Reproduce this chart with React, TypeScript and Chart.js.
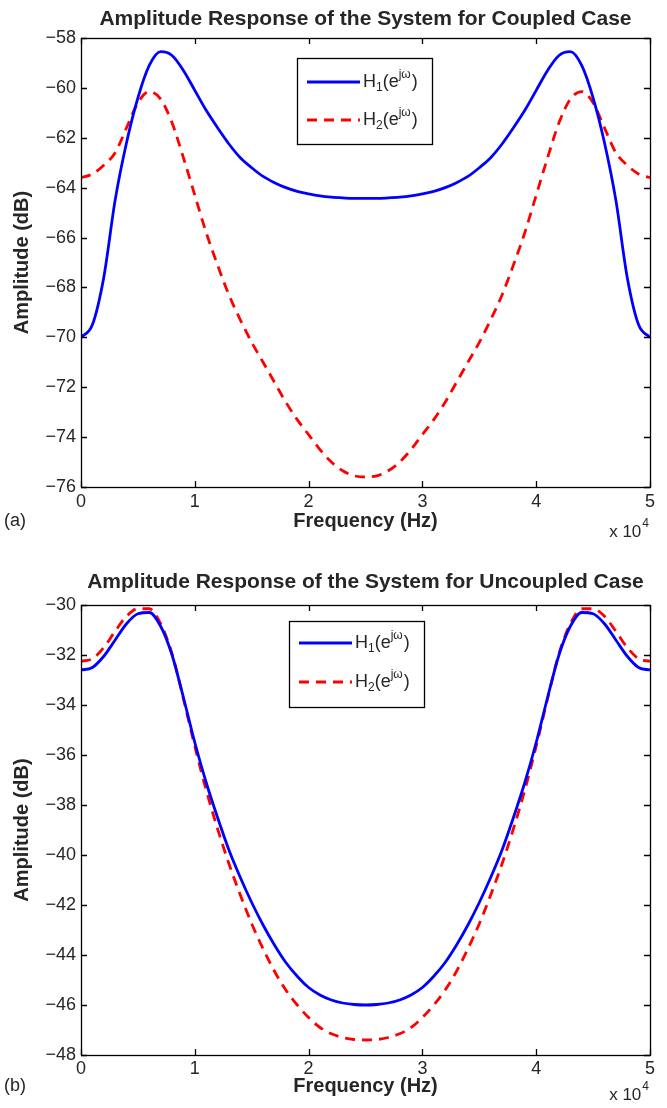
import React, { useEffect, useRef } from "react";
import { Chart, registerables } from "chart.js";

Chart.register(...registerables);

// ---------------- data ----------------
const FREQ_HZ = [
  0, 1000, 2000, 3000, 4000, 5000, 6000, 7000, 8000, 9000,
  10000, 11000, 12000, 13000, 14000, 15000, 16000, 17000, 18000, 19000,
  20000, 21000, 22000, 23000, 24000, 25000, 26000, 27000, 28000, 29000,
  30000, 31000, 32000, 33000, 34000, 35000, 36000, 37000, 38000, 39000,
  40000, 41000, 42000, 43000, 44000, 45000, 46000, 47000, 48000, 49000,
  50000,
];

const H1_COUPLED = [
  -70.0, -69.5, -67.6, -64.5, -62.2, -60.4, -59.1, -58.55, -58.7, -59.3,
  -60.1, -60.9, -61.6, -62.25, -62.8, -63.2, -63.55, -63.8, -64.0, -64.15,
  -64.25, -64.33, -64.38, -64.41, -64.43, -64.43, -64.43, -64.41, -64.38, -64.33,
  -64.25, -64.15, -64.0, -63.8, -63.55, -63.2, -62.8, -62.25, -61.6, -60.9,
  -60.1, -59.3, -58.7, -58.55, -59.1, -60.4, -62.2, -64.5, -67.6, -69.5,
  -70.0,
];

const H2_COUPLED = [
  -63.6, -63.45, -63.1, -62.6, -61.6, -60.6, -60.15, -60.45, -61.4, -62.8,
  -64.3, -65.8, -67.1, -68.3, -69.3, -70.2, -71.0, -71.8, -72.6, -73.3,
  -73.9, -74.5, -75.0, -75.35, -75.55, -75.6, -75.55, -75.35, -75.0, -74.5,
  -73.9, -73.3, -72.6, -71.8, -71.0, -70.2, -69.3, -68.3, -67.1, -65.8,
  -64.3, -62.8, -61.4, -60.45, -60.15, -60.6, -61.6, -62.6, -63.1, -63.45,
  -63.6,
];

const H1_UNCOUPLED = [
  -32.6, -32.5, -32.05, -31.4, -30.75, -30.35, -30.3, -30.85, -32.0, -33.7,
  -35.5, -37.1, -38.5, -39.8, -40.9, -41.9, -42.8, -43.6, -44.3, -44.85,
  -45.3, -45.6, -45.8, -45.92, -45.98, -46.0, -45.98, -45.92, -45.8, -45.6,
  -45.3, -44.85, -44.3, -43.6, -42.8, -41.9, -40.9, -39.8, -38.5, -37.1,
  -35.5, -33.7, -32.0, -30.85, -30.3, -30.35, -30.75, -31.4, -32.05, -32.5,
  -32.6,
];

const H2_UNCOUPLED = [
  -32.25, -32.15, -31.7, -31.05, -30.45, -30.15, -30.15, -30.75, -31.95, -33.75,
  -35.65, -37.4, -38.95, -40.35, -41.6, -42.75, -43.75, -44.65, -45.4, -46.0,
  -46.5, -46.9, -47.15, -47.3, -47.38, -47.4, -47.38, -47.3, -47.15, -46.9,
  -46.5, -46.0, -45.4, -44.65, -43.75, -42.75, -41.6, -40.35, -38.95, -37.4,
  -35.65, -33.75, -31.95, -30.75, -30.15, -30.15, -30.45, -31.05, -31.7, -32.15,
  -32.25,
];

const X_MIN = 0;
const X_MAX = 50000;
const X_STEP = 10000;
const Y_RANGE_COUPLED = [-76, -58];
const Y_RANGE_UNCOUPLED = [-48, -30];
const Y_STEP = 2;

const TITLE_COUPLED = "Amplitude Response of the System for Coupled Case";
const TITLE_UNCOUPLED = "Amplitude Response of the System for Uncoupled Case";
const X_LABEL = "Frequency (Hz)";
const Y_LABEL = "Amplitude (dB)";
const PANEL_LABELS = ["(a)", "(b)"];
const X_EXPONENT = ["x 10", "4"];
const LEGEND_PARTS = [
  { base: "H", sub: "1", mid: "(e", sup: "j\u03c9", end: ")" },
  { base: "H", sub: "2", mid: "(e", sup: "j\u03c9", end: ")" },
];

// ---------------- style ----------------
const FONT = '"Liberation Sans", Arial, Helvetica, sans-serif';
const TEXT = "#262626";
const BLUE = "#0000ff";
const RED = "#ff0000";
const DASH = [10, 7];

type Layout = {
  height: number;
  plotTop: number;
  titleY: number;
  xScaleHeight: number;
  xTickPad: number;
  xTitlePadBottom: number;
  legend: { x: number; y: number; w: number; h: number; rows: number[] };
  panelY: number;
  expY: number;
};

function drawRich(ctx: CanvasRenderingContext2D, x: number, y: number, p: typeof LEGEND_PARTS[0]) {
  ctx.fillStyle = TEXT;
  ctx.textBaseline = "middle";
  ctx.textAlign = "left";
  const big = `18px ${FONT}`;
  const small = `12px ${FONT}`;
  ctx.font = big;
  ctx.fillText(p.base, x, y);
  x += ctx.measureText(p.base).width;
  ctx.font = small;
  ctx.fillText(p.sub, x, y + 6);
  x += ctx.measureText(p.sub).width;
  ctx.font = big;
  ctx.fillText(p.mid, x, y);
  x += ctx.measureText(p.mid).width;
  ctx.font = small;
  ctx.fillText(p.sup, x, y - 7);
  x += ctx.measureText(p.sup).width + 1;
  ctx.font = big;
  ctx.fillText(p.end, x, y);
}

function makeDecor(layout: Layout, panel: string, title: string) {
  return {
    id: "decor",
    afterDraw(chart: any) {
      const ctx: CanvasRenderingContext2D = chart.ctx;
      const { left, right, top, bottom } = chart.chartArea;
      const xs = chart.scales.x;
      const ys = chart.scales.y;
      ctx.save();
      // title centred over the plot area
      ctx.fillStyle = TEXT;
      ctx.font = `bold 21px ${FONT}`;
      ctx.textAlign = "center";
      ctx.textBaseline = "middle";
      ctx.fillText(title, (left + right) / 2, layout.titleY);
      // frame
      ctx.strokeStyle = "#000";
      ctx.lineWidth = 1.3;
      ctx.setLineDash([]);
      ctx.strokeRect(Math.round(left) + 0.5, Math.round(top) + 0.5, Math.round(right - left), Math.round(bottom - top));
      // inward ticks
      const tl = 6;
      xs.ticks.forEach((t: any) => {
        const px = Math.round(xs.getPixelForValue(t.value)) + 0.5;
        ctx.beginPath();
        ctx.moveTo(px, bottom);
        ctx.lineTo(px, bottom - tl);
        ctx.moveTo(px, top);
        ctx.lineTo(px, top + tl);
        ctx.stroke();
      });
      ys.ticks.forEach((t: any) => {
        const py = Math.round(ys.getPixelForValue(t.value)) + 0.5;
        ctx.beginPath();
        ctx.moveTo(left, py);
        ctx.lineTo(left + tl, py);
        ctx.moveTo(right, py);
        ctx.lineTo(right - tl, py);
        ctx.stroke();
      });
      // legend
      const L = layout.legend;
      ctx.fillStyle = "#fff";
      ctx.fillRect(L.x, L.y, L.w, L.h);
      ctx.strokeStyle = "#000";
      ctx.lineWidth = 1.3;
      ctx.strokeRect(L.x + 0.5, L.y + 0.5, L.w, L.h);
      chart.data.datasets.forEach((ds: any, i: number) => {
        const ry = L.rows[i];
        ctx.save();
        ctx.strokeStyle = ds.borderColor;
        ctx.lineWidth = ds.borderWidth;
        ctx.setLineDash(ds.borderDash || []);
        ctx.beginPath();
        ctx.moveTo(L.x + 10, ry);
        ctx.lineTo(L.x + 63, ry);
        ctx.stroke();
        ctx.restore();
        drawRich(ctx, L.x + 66, ry, LEGEND_PARTS[i]);
      });
      // panel label
      ctx.fillStyle = TEXT;
      ctx.font = `18px ${FONT}`;
      ctx.textBaseline = "middle";
      ctx.textAlign = "left";
      ctx.fillText(panel, 4, layout.panelY);
      // exponent
      ctx.font = `17px ${FONT}`;
      const w1 = ctx.measureText(X_EXPONENT[0]).width;
      ctx.font = `12px ${FONT}`;
      const w2 = ctx.measureText(X_EXPONENT[1]).width;
      const ex = 648 - w1 - w2;
      ctx.font = `17px ${FONT}`;
      ctx.fillText(X_EXPONENT[0], ex, layout.expY);
      ctx.font = `12px ${FONT}`;
      ctx.fillText(X_EXPONENT[1], ex + w1 + 1, layout.expY - 8);
      ctx.restore();
    },
  };
}

function minus(v: number) {
  return String(v).replace("-", "\u2212");
}

function buildConfig(
  title: string,
  h1: number[],
  h2: number[],
  yRange: number[],
  layout: Layout,
  panel: string
): any {
  return {
    type: "line",
    data: {
      datasets: [
        {
          label: "H1",
          data: FREQ_HZ.map((f, i) => ({ x: f, y: h1[i] })),
          borderColor: BLUE,
          borderWidth: 2.8,
          pointRadius: 0,
          cubicInterpolationMode: "monotone",
          fill: false,
        },
        {
          label: "H2",
          data: FREQ_HZ.map((f, i) => ({ x: f, y: h2[i] })),
          borderColor: RED,
          borderWidth: 2.8,
          borderDash: DASH,
          pointRadius: 0,
          cubicInterpolationMode: "monotone",
          fill: false,
        },
      ],
    },
    options: {
      animation: false,
      responsive: false,
      maintainAspectRatio: false,
      layout: { padding: { left: 0, right: 17, top: layout.plotTop, bottom: 0 } },
      plugins: {
        legend: { display: false },
        tooltip: { enabled: false },
        title: { display: false },
      },
      scales: {
        x: {
          type: "linear",
          min: X_MIN,
          max: X_MAX,
          grid: { display: false, drawTicks: false },
          border: { display: false },
          ticks: {
            stepSize: X_STEP,
            autoSkip: false,
            maxRotation: 0,
            padding: layout.xTickPad,
            color: TEXT,
            font: { family: FONT, size: 18 },
            callback: (v: number) => String(v / 10000),
          },
          title: {
            display: true,
            text: X_LABEL,
            color: TEXT,
            font: { family: FONT, size: 20, weight: "bold", lineHeight: 1.2 },
            padding: { top: 0, bottom: layout.xTitlePadBottom },
          },
          afterFit: (s: any) => {
            s.height = layout.xScaleHeight;
          },
        },
        y: {
          type: "linear",
          min: yRange[0],
          max: yRange[1],
          grid: { display: false, drawTicks: false },
          border: { display: false },
          ticks: {
            stepSize: Y_STEP,
            autoSkip: false,
            padding: 5,
            color: TEXT,
            font: { family: FONT, size: 18 },
            callback: (v: number) => minus(v),
          },
          title: {
            display: true,
            text: Y_LABEL,
            color: TEXT,
            font: { family: FONT, size: 20, weight: "bold", lineHeight: 1.2 },
            padding: { top: 10, bottom: 0 },
          },
          afterFit: (s: any) => {
            s.width = 81;
          },
        },
      },
    },
    plugins: [makeDecor(layout, panel, title)],
  };
}

const LAYOUT_A: Layout = {
  height: 550,
  plotTop: 38,
  titleY: 19,
  xScaleHeight: 63,
  xTickPad: 4,
  xTitlePadBottom: 17,
  legend: { x: 297, y: 58, w: 135, h: 86, rows: [82, 120] },
  panelY: 521,
  expY: 532,
};

const LAYOUT_B: Layout = {
  height: 558,
  plotTop: 55,
  titleY: 32,
  xScaleHeight: 53,
  xTickPad: 3,
  xTitlePadBottom: 10,
  legend: { x: 289, y: 71, w: 135, h: 86, rows: [93, 132] },
  panelY: 536,
  expY: 545,
};

function Panel(props: { title: string; h1: number[]; h2: number[]; yRange: number[]; layout: Layout; panel: string; top: number }) {
  const ref = useRef<HTMLCanvasElement | null>(null);
  useEffect(() => {
    if (!ref.current) return;
    const chart = new Chart(ref.current, buildConfig(props.title, props.h1, props.h2, props.yRange, props.layout, props.panel));
    return () => chart.destroy();
  }, []);
  return (
    <canvas
      ref={ref}
      width={667}
      height={props.layout.height}
      style={{ position: "absolute", left: 0, top: props.top, width: 667, height: props.layout.height, display: "block" }}
    />
  );
}

export default function App() {
  return (
    <div style={{ position: "absolute", left: 0, top: 0, width: 667, height: 1108, background: "#fff" }}>
      <Panel title={TITLE_COUPLED} h1={H1_COUPLED} h2={H2_COUPLED} yRange={Y_RANGE_COUPLED} layout={LAYOUT_A} panel={PANEL_LABELS[0]} top={0} />
      <Panel title={TITLE_UNCOUPLED} h1={H1_UNCOUPLED} h2={H2_UNCOUPLED} yRange={Y_RANGE_UNCOUPLED} layout={LAYOUT_B} panel={PANEL_LABELS[1]} top={550} />
    </div>
  );
}
